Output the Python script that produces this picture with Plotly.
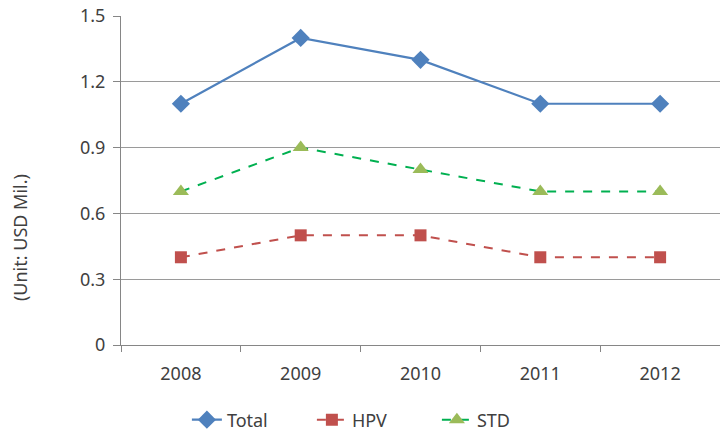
import plotly.graph_objects as go

years = ["2008", "2009", "2010", "2011", "2012"]
total = [1.1, 1.4, 1.3, 1.1, 1.1]
hpv = [0.4, 0.5, 0.5, 0.4, 0.4]
std = [0.7, 0.9, 0.8, 0.7, 0.7]
y_ticks = [0, 0.3, 0.6, 0.9, 1.2, 1.5]
y_tick_labels = ["0", "0.3", "0.6", "0.9", "1.2", "1.5"]

FONT = "Noto Sans, DejaVu Sans, sans-serif"
TXT = "#404040"

fig = go.Figure()
fig.add_trace(go.Scatter(
    x=years, y=total, name="Total", mode="lines+markers",
    line=dict(color="#4F81BD", width=2.2),
    marker=dict(symbol="diamond", size=14, color="#4F81BD"),
))
fig.add_trace(go.Scatter(
    x=years, y=hpv, name="HPV", mode="lines+markers",
    line=dict(color="#C0504D", width=2, dash="dash"),
    marker=dict(symbol="square", size=12, color="#C0504D"),
))
fig.add_trace(go.Scatter(
    x=years, y=std, name="STD", mode="lines+markers",
    line=dict(color="#00B050", width=2, dash="dash"),
    marker=dict(symbol="triangle-up", size=14, color="#9BBB59"),
))

fig.update_layout(
    width=720, height=434,
    margin=dict(l=121, r=0, t=16, b=89, autoexpand=False),
    paper_bgcolor="white", plot_bgcolor="white",
    font=dict(family=FONT, size=18, color=TXT),
    showlegend=True,
    legend=dict(
        orientation="h", x=0.11, xanchor="left", y=-0.228, yanchor="middle",
        font=dict(size=18, color=TXT), entrywidth=80, entrywidthmode="pixels",
    ),
    annotations=[dict(
        text="(Unit: USD Mil.)", xref="paper", yref="paper",
        x=-0.1686, y=0.325, xanchor="center", yanchor="middle",
        textangle=-90, showarrow=False,
        font=dict(size=18, color=TXT, family=FONT),
    )],
)
fig.update_xaxes(
    type="category", range=[-0.5, 4.5],
    tickson="boundaries", ticks="outside", ticklen=6, tickcolor="#868686",
    showline=True, linecolor="#868686", linewidth=1,
    showgrid=False, ticklabelstandoff=12,
)
fig.update_yaxes(
    range=[0, 1.5], tickvals=y_ticks, ticktext=y_tick_labels,
    ticks="outside", ticklen=7, tickcolor="#868686",
    showline=True, linecolor="#868686", linewidth=1,
    showgrid=True, gridcolor="#9a9a9a", gridwidth=1,
    zeroline=False, ticklabelstandoff=4,
)

fig.write_html(
    "out.html",
    config={"displayModeBar": False},
    post_script="document.body.style.margin='0';document.body.style.overflow='hidden';",
)
